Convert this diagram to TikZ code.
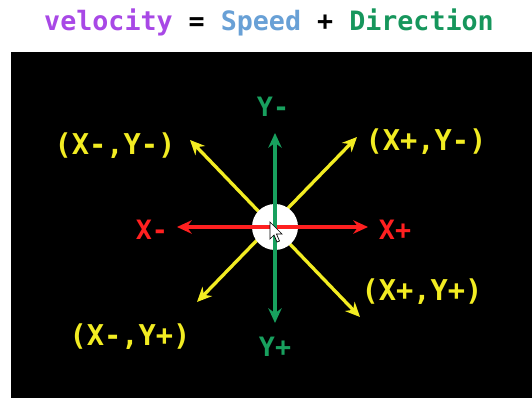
\documentclass[tikz,border=0pt]{standalone}
\usepackage{fontspec}
\usetikzlibrary{arrows.meta}
\setmonofont{DejaVu Sans Mono}
\definecolor{velpurple}{RGB}{168,72,230}
\definecolor{spdblue}{RGB}{104,160,214}
\definecolor{dirgreen}{RGB}{22,150,92}
\definecolor{axgreen}{RGB}{24,160,94}
\definecolor{axred}{RGB}{255,32,32}
\definecolor{diagyellow}{RGB}{242,236,34}
\begin{document}
\begin{tikzpicture}[x=0.75pt, y=-0.75pt,
  every node/.style={font=\ttfamily\bfseries\fontsize{20}{24}\selectfont, inner sep=0pt},
  arr/.style={{Stealth[length=11pt, width=10pt]}-{Stealth[length=11pt, width=10pt]}, line width=2.5pt},
  xlbl/.style={text=axred},
  ylbl/.style={text=axgreen},
  qlbl/.style={text=diagyellow, font=\ttfamily\bfseries\fontsize{21.5}{24}\selectfont}
]
\useasboundingbox (0,0) rectangle (532,398);

% Title
\node (title) at (269,22) {{\color{velpurple}velocity} = {\color{spdblue}Speed} + {\color{dirgreen}Direction}};

% Screen
\fill[black] (11,52) rectangle (532,398);

% Centre point
\def\Cx{275}
\def\Cy{227}

% Arrow ends
\coordinate (xl) at (177,\Cy);
\coordinate (xr) at (368,\Cy);
\coordinate (yt) at (\Cx,133);
\coordinate (yb) at (\Cx,323);
\coordinate (tl) at (190,140);
\coordinate (br) at (360,317);
\coordinate (tr) at (357,137);
\coordinate (bl) at (197,302);

% Diagonals
\draw[arr, diagyellow] (tl) -- (br);
\draw[arr, diagyellow] (tr) -- (bl);

% Ball
\fill[white] (\Cx,\Cy) circle (23);

% Axes
\draw[arr, axred] (xl) -- (xr);
\draw[arr, axgreen] (yt) -- (yb);

% Cursor
\filldraw[fill=white, draw=black, line width=0.5pt]
  (270,222) -- ++(0,17) -- ++(4,-4) -- ++(3,7) -- ++(2.5,-1) -- ++(-3,-7) -- ++(5.5,0) -- cycle;

% Axis labels
\node[xlbl] (xminus) at (152,230) {X-};
\node[xlbl] (xplus) at (395,230) {X+};
\node[ylbl] (yminus) at (273,107) {Y-};
\node[ylbl] (yplus) at (275,347) {Y+};

% Quadrant labels
\node[qlbl] (qmm) at (115,146) {(X-,Y-)};
\node[qlbl] (qpm) at (426,142) {(X+,Y-)};
\node[qlbl] (qpp) at (422,292) {(X+,Y+)};
\node[qlbl] (qmp) at (130,337) {(X-,Y+)};

\end{tikzpicture}
\end{document}
